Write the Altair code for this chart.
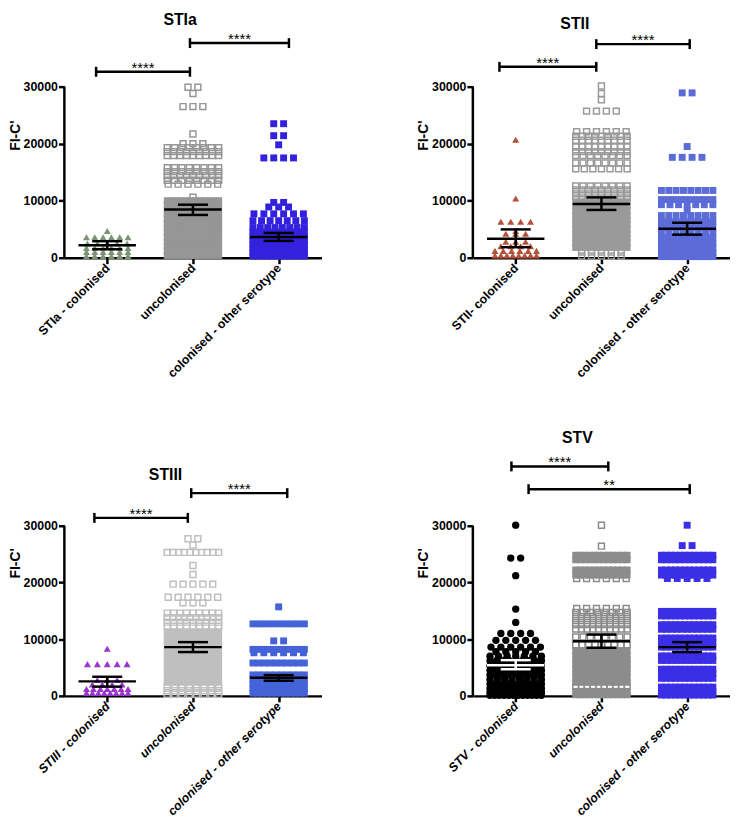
import json
import altair as alt
import pandas as pd

# ---------------- data ----------------
PANEL_NAMES = ["STIa", "STII", "STIII", "STV"]
GROUP_LABELS = [
    ["STIa - colonised", "uncolonised", "colonised - other serotype"],
    ["STII- colonised", "uncolonised", "colonised - other serotype"],
    ["STIII - colonised", "uncolonised", "colonised - other serotype"],
    ["STV - colonised", "uncolonised", "colonised - other serotype"],
]
Y_TICKS = [0, 10000, 20000, 30000]

# rows of points: value level and number of points drawn side by side
stia_col_vals = [4700, 3600, 2500, 1700, 1000, 300]
stia_col_counts = [1, 6, 5, 6, 6, 6]
stia_unc_vals = [29900, 28800, 26500, 21700, 20000, 19300, 18600, 17900, 15800, 15100, 14400, 13600, 12900,
                 10600, 10000, 9200, 8400, 7600, 6800, 6000, 5200, 4400, 3600, 2800, 2000, 1200, 400]
stia_unc_counts = [2, 1, 3, 1, 3, 8, 9, 9, 8, 8, 9, 8, 6,
                   1, 12, 12, 12, 12, 12, 12, 12, 12, 12, 12, 12, 12, 12]
stia_oth_vals = [23500, 21400, 19800, 17500, 9700, 8900, 7700, 6500, 5300, 4500, 3700, 3000, 2300,
                 1600, 900, 300]
stia_oth_counts = [2, 2, 1, 4, 2, 3, 6, 7, 8, 10, 12, 12, 10, 12, 12, 12]

stii_col_vals = [20700, 10400, 6300, 4700, 4200, 2800, 2000, 1200, 400]
stii_col_counts = [1, 1, 4, 1, 3, 3, 4, 6, 8]
stii_unc_vals = [30100, 28800, 27700, 25700, 22100, 21300, 20600, 19400, 18600, 17900, 16600, 15600, 12600,
                 11900, 11200, 10500, 9800, 9000, 8200, 7400, 6600, 5800, 5000, 4200, 3400, 2600, 1800,
                 1000, 300]
stii_unc_counts = [1, 1, 1, 4, 6, 9, 9, 9, 9, 8, 8, 7, 8,
                   9, 9, 9, 12, 12, 12, 12, 12, 12, 12, 12, 12, 12, 11,
                   5, 5]
stii_oth_vals = [28900, 19500, 17600, 11800, 10200, 9300, 8300, 7400, 6300, 5300, 4400, 3500, 2500,
                 1700, 900, 200]
stii_oth_counts = [2, 1, 4, 8, 9, 7, 1, 8, 9, 10, 8, 9, 10, 12, 12, 12]

stiii_col_vals = [8300, 5600, 2800, 2000, 1200, 500]
stiii_col_counts = [1, 5, 3, 4, 7, 8]
stiii_unc_vals = [27700, 26600, 25300, 23000, 21400, 19700, 17400, 16400, 14600, 13800, 13000, 12300,
                  11200, 10400, 9600, 8800, 8000, 7200, 6400, 5600, 4800, 4000, 3200, 2400, 1600, 900, 300]
stiii_unc_counts = [2, 1, 10, 1, 1, 5, 6, 3, 9, 10, 9, 9,
                    12, 12, 12, 12, 12, 12, 12, 12, 12, 12, 12, 12, 8, 8, 8]
stiii_oth_vals = [15700, 12700, 9700, 8200, 7600, 5800, 3700, 3000, 2100, 1300, 500]
stiii_oth_counts = [1, 9, 2, 9, 6, 10, 10, 10, 9, 12, 12]

stv_col_vals = [30100, 24300, 21200, 15300, 12960, 11000, 9800, 8600, 7800, 7000, 6200, 5300, 4500,
                3700, 2900, 2100, 1300, 600, 100]
stv_col_counts = [1, 2, 1, 1, 1, 4, 5, 6, 5, 7, 9, 12, 12, 12, 8, 12, 12, 12, 12]
stv_unc_vals = [30100, 26400, 24800, 24000, 22200, 21300, 20700, 15400, 14700, 14000, 13300, 12600,
                11800, 10400, 9000, 8000, 7200, 6400, 5600, 4800, 4000, 3200, 2400, 1600, 800, 200]
stv_unc_counts = [1, 1, 12, 12, 12, 12, 6, 6, 8, 10, 10, 10,
                  10, 8, 9, 12, 12, 12, 12, 12, 12, 12, 12, 10, 12, 12]
stv_oth_vals = [30100, 26500, 24800, 24000, 22200, 21300, 20700, 14900, 14100, 12550, 11750, 10200, 9400,
                8600, 7050, 6250, 4700, 3900, 3100, 1550, 750, 150]
stv_oth_counts = [1, 2, 12, 12, 12, 12, 5, 12, 12, 12, 11, 12, 12,
                  12, 12, 11, 12, 12, 12, 12, 12, 12]

# mean and SEM (lower / upper) per group
stia_mean, stia_lo, stia_hi = [2200, 8450, 3650], [1500, 7500, 2950], [2900, 9300, 4350]
stii_mean, stii_lo, stii_hi = [3350, 9420, 5090], [1850, 8380, 4050], [4970, 10580, 6130]
stiii_mean, stiii_lo, stiii_hi = [2560, 8600, 3200], [1630, 7730, 2670], [3370, 9480, 3660]
stv_mean, stv_lo, stv_hi = [5400, 9650, 8600], [4700, 8490, 7730], [6300, 10810, 9480]

# significance brackets (x in group units, 0..3)
stia_br = dict(x1=[0.37, 1.465], x2=[1.465, 2.62], y=[32600, 37630], txt=["****", "****"])
stii_br = dict(x1=[0.31, 1.44], x2=[1.44, 2.53], y=[33470, 37450], txt=["****", "****"])
stiii_br = dict(x1=[0.35, 1.48], x2=[1.44, 2.6], y=[31390, 35750], txt=["****", "****"])
stv_br = dict(x1=[0.45, 0.65], x2=[1.58, 2.53], y=[40460, 36450], txt=["****", "**"])

# ---------------- styling ----------------
FONT = "Liberation Sans"
W = 260
PX_PER_UNIT = W / 3.0

STYLES = [
    [dict(shape="triangle-up", color="#7d9474", open=False, size=50, wmax=21, bar="black"),
     dict(shape="square", color="#969696", open=True, size=36, wmax=26, bar="black"),
     dict(shape="square", color="#3322dd", open=False, size=49, wmax=26, bar="black")],
    [dict(shape="triangle-up", color="#b4513b", open=False, size=50, wmax=21, bar="black"),
     dict(shape="square", color="#9a9a9a", open=True, size=36, wmax=26, bar="black"),
     dict(shape="square", color="#5b6bd8", open=False, size=49, wmax=26, bar="black")],
    [dict(shape="triangle-up", color="#9b35cf", open=False, size=50, wmax=21, bar="black"),
     dict(shape="square", color="#bfbfbf", open=True, size=36, wmax=26, bar="black"),
     dict(shape="square", color="#4563d8", open=False, size=49, wmax=26, bar="black")],
    [dict(shape="circle", color="#000000", open=False, size=55, wmax=26, bar="white"),
     dict(shape="square", color="#8c8c8c", open=True, size=36, wmax=26, bar="black"),
     dict(shape="square", color="#3a2ee6", open=False, size=49, wmax=26, bar="black")],
]


def rows_to_points(vals, counts, gi, wmax):
    c = gi + 0.5
    pts = []
    for v, n in zip(vals, counts):
        s = 10.0 if n == 1 else min(10.0, 2.0 * wmax / (n - 1))
        for i in range(n):
            off = (i - (n - 1) / 2.0) * s
            pts.append({"x": c + off / PX_PER_UNIT, "y": v, "dense": s < 5.5})
    return pts


def make_panel(k, groups, means, lo, hi, br, title_x, title_y, ymax, height, italic):
    vpp = ymax / height
    xs = alt.Scale(domain=[0, 3], nice=False, zero=False)
    ys = alt.Scale(domain=[0, ymax], nice=False, zero=False)
    label_expr = "[" + ",".join(json.dumps(l) for l in GROUP_LABELS[k]) + "][floor(datum.value)]"
    xaxis = alt.Axis(values=[0.5, 1.5, 2.5], labelExpr=label_expr, labelAngle=-45, labelAlign="right",
                     labelBaseline="middle", labelFontSize=12.5, labelFontWeight="bold",
                     labelFontStyle="italic" if italic else "normal", labelPadding=2,
                     labelFlush=False, labelOverlap=False, labelBound=False,
                     domain=True, domainWidth=2.5, domainColor="black", ticks=True, tickSize=6,
                     tickWidth=2.5, tickColor="black", grid=False, title=None, labelColor="black")
    yaxis = alt.Axis(values=Y_TICKS, format="d", labelFontSize=12.5, labelFontWeight="bold", labelPadding=1,
                     labelColor="black", domain=False, ticks=True, tickSize=6, tickWidth=2.5,
                     tickColor="black", grid=False, title="FI-C'", titleFontSize=14, titleFontWeight="bold",
                     titleColor="black", titlePadding=1, labelFlush=False)

    def X(f="x"):
        return alt.X(f, type="quantitative", scale=xs, axis=xaxis)

    def Y(f="y"):
        return alt.Y(f, type="quantitative", scale=ys, axis=yaxis)

    layers = []
    for gi, (vals, counts) in enumerate(groups):
        st = STYLES[k][gi]
        df = pd.DataFrame(rows_to_points(vals, counts, gi, st["wmax"]))
        if st["open"]:
            d_open = df[~df["dense"]]
            d_fill = df[df["dense"]]
            if len(d_fill):
                layers.append(alt.Chart(d_fill).mark_point(shape="square", filled=True, size=49,
                                                           color=st["color"], opacity=1)
                              .encode(x=X(), y=Y()))
            if len(d_open):
                layers.append(alt.Chart(d_open).mark_point(shape="square", filled=False, size=st["size"],
                                                           color=st["color"], strokeWidth=1.5, opacity=1)
                              .encode(x=X(), y=Y()))
        else:
            layers.append(alt.Chart(df).mark_point(shape=st["shape"], filled=True, size=st["size"],
                                                   color=st["color"], opacity=1)
                          .encode(x=X(), y=Y()))

    # horizontal segments: mean lines, SEM caps, bracket lines
    hseg, vseg = [], []
    for gi in range(3):
        c = gi + 0.5
        col = STYLES[k][gi]["bar"]
        hseg.append({"x": c - 0.335, "x2": c + 0.335, "y": means[gi], "c": col})
        hseg.append({"x": c - 0.175, "x2": c + 0.175, "y": lo[gi], "c": col})
        hseg.append({"x": c - 0.175, "x2": c + 0.175, "y": hi[gi], "c": col})
        vseg.append({"x": c, "y": lo[gi], "y2": hi[gi], "c": col})
    cap = 5 * vpp
    for x1, x2, yv in zip(br["x1"], br["x2"], br["y"]):
        hseg.append({"x": x1, "x2": x2, "y": yv, "c": "black"})
        vseg.append({"x": x1, "y": yv - cap, "y2": yv + cap, "c": "black"})
        vseg.append({"x": x2, "y": yv - cap, "y2": yv + cap, "c": "black"})
    vseg.append({"x": 0, "y": 0, "y2": Y_TICKS[-1], "c": "black"})  # y axis line

    layers.append(alt.Chart(pd.DataFrame(hseg)).mark_rule(strokeWidth=2.5)
                  .encode(x=X(), x2=alt.X2("x2"), y=Y(), color=alt.Color("c:N", scale=None)))
    layers.append(alt.Chart(pd.DataFrame(vseg)).mark_rule(strokeWidth=2.5)
                  .encode(x=X(), y=Y(), y2=alt.Y2("y2"), color=alt.Color("c:N", scale=None)))

    stars = pd.DataFrame({"x": [(a + b) / 2 for a, b in zip(br["x1"], br["x2"])],
                          "y": br["y"], "t": br["txt"]})
    layers.append(alt.Chart(stars).mark_text(font=FONT, fontSize=15, baseline="alphabetic", align="center",
                                             color="black", dy=1)
                  .encode(x=X(), y=Y(), text="t:N"))
    ttl = pd.DataFrame({"x": [title_x], "y": [title_y], "t": [PANEL_NAMES[k]]})
    layers.append(alt.Chart(ttl).mark_text(font=FONT, fontSize=16, fontWeight="bold", baseline="middle",
                                           align="center", color="black")
                  .encode(x=X(), y=Y(), text="t:N"))

    return alt.layer(*layers).properties(width=W, height=height)


TOP_MAX, TOP_H = 43000, 248
BOT_MAX, BOT_H = 46910, 269

p1 = make_panel(0, [(stia_col_vals, stia_col_counts), (stia_unc_vals, stia_unc_counts),
                    (stia_oth_vals, stia_oth_counts)], stia_mean, stia_lo, stia_hi, stia_br,
                1.35, 41600, TOP_MAX, TOP_H, False)
p2 = make_panel(1, [(stii_col_vals, stii_col_counts), (stii_unc_vals, stii_unc_counts),
                    (stii_oth_vals, stii_oth_counts)], stii_mean, stii_lo, stii_hi, stii_br,
                1.19, 40920, TOP_MAX, TOP_H, False)
p3 = make_panel(2, [(stiii_col_vals, stiii_col_counts), (stiii_unc_vals, stiii_unc_counts),
                    (stiii_oth_vals, stiii_oth_counts)], stiii_mean, stiii_lo, stiii_hi, stiii_br,
                1.18, 38890, BOT_MAX, BOT_H, True)
p4 = make_panel(3, [(stv_col_vals, stv_col_counts), (stv_unc_vals, stv_unc_counts),
                    (stv_oth_vals, stv_oth_counts)], stv_mean, stv_lo, stv_hi, stv_br,
                1.22, 45520, BOT_MAX, BOT_H, True)

chart = (alt.concat(p1, p2, p3, p4, columns=2, spacing={"row": 174, "column": 153}, bounds="flush")
         .properties(padding=0)
         .configure(font=FONT, background="white")
         .configure_view(stroke=None))

chart.save("out.html", embed_options={"renderer": "svg", "actions": False})
